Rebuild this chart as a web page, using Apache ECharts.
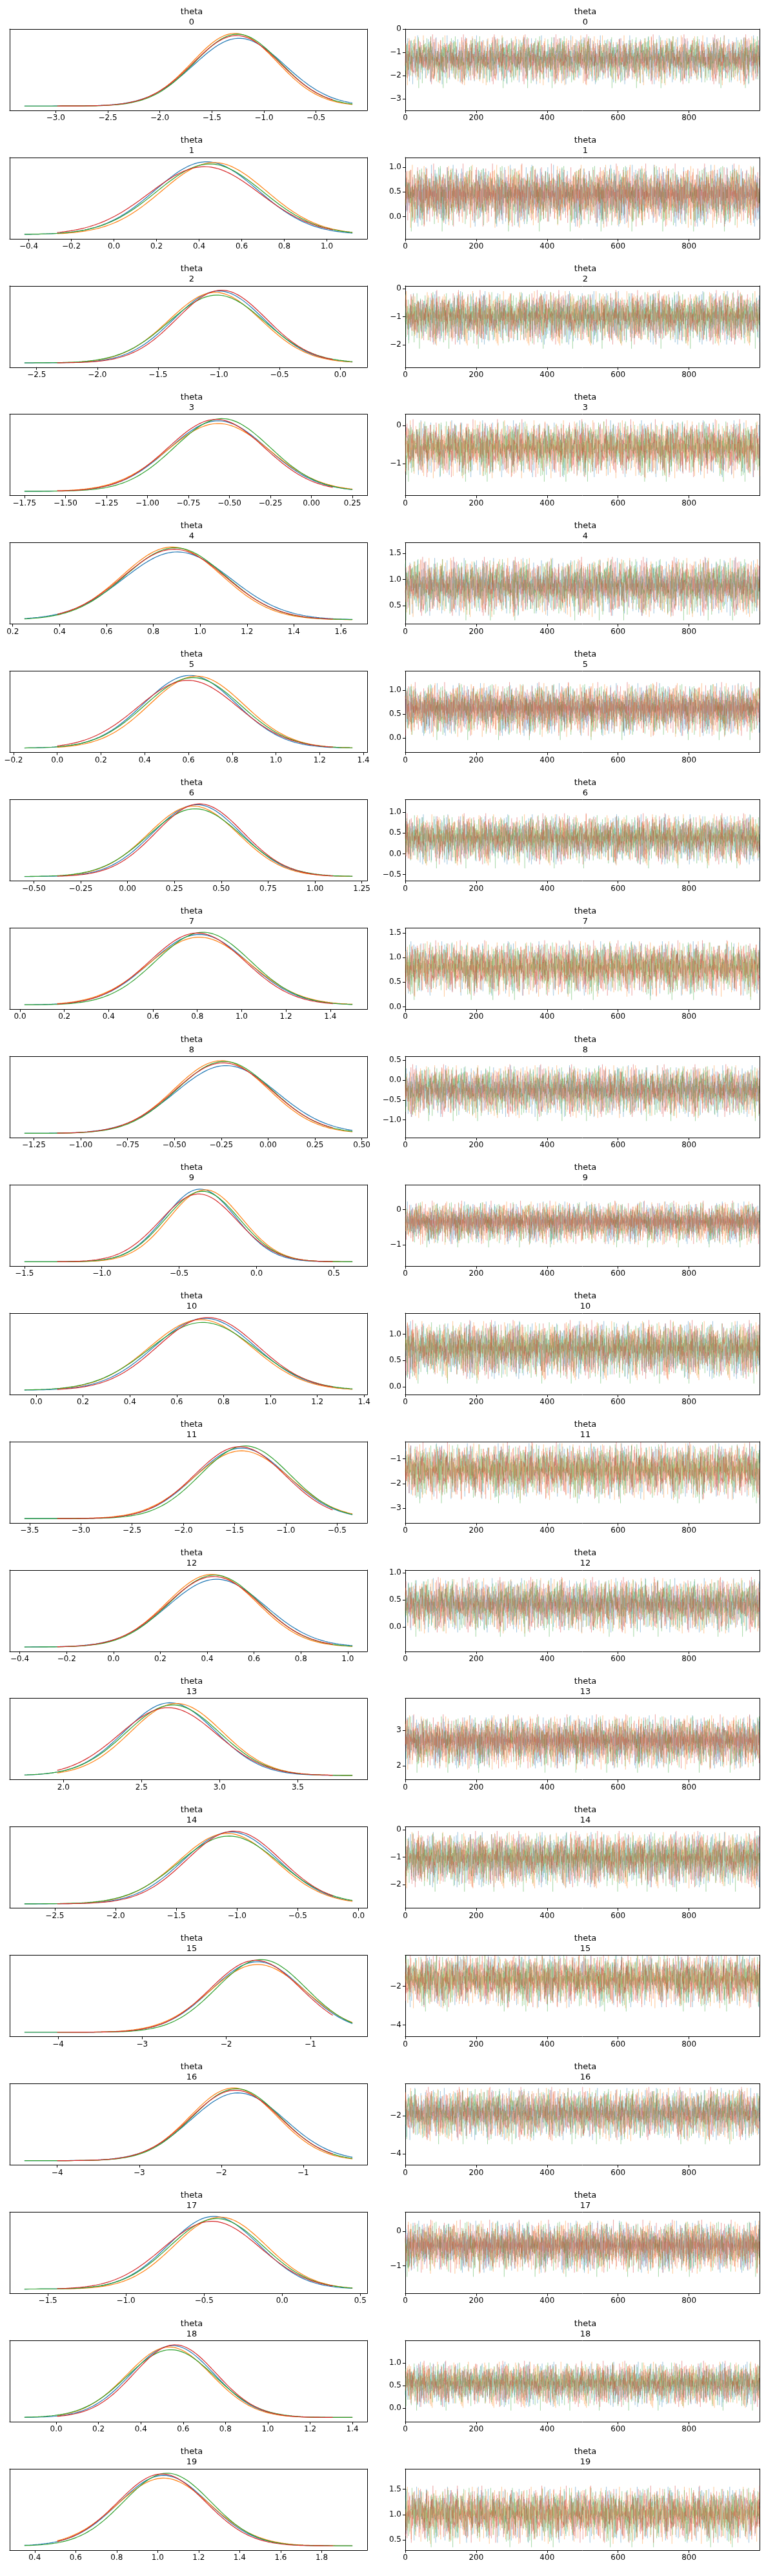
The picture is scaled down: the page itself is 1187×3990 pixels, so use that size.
<!DOCTYPE html>
<html><head><meta charset="utf-8">
<script src="https://cdn.jsdelivr.net/npm/echarts@6/dist/echarts.min.js"></script>
<style>html,body{margin:0;padding:0;background:#fff}#c{width:1187px;height:3990px}</style>
</head><body><div id="c"></div>
<script>
// Per-panel posterior summaries
const panelNames = ['0','1','2','3','4','5','6','7','8','9','10','11','12','13','14','15','16','17','18','19'];
const kdeMeans = [-1.28,0.45,-1.0,-0.58,0.88,0.62,0.37,0.8,-0.25,-0.35,0.72,-1.45,0.42,2.7,-1.05,-1.65,-1.85,-0.42,0.55,1.02];
const kdeSds   = [0.42,0.25,0.38,0.3,0.22,0.22,0.24,0.22,0.26,0.24,0.22,0.45,0.2,0.3,0.4,0.55,0.55,0.3,0.2,0.22];
const kdeXMin  = [-3.3,-0.42,-2.6,-1.75,0.25,-0.15,-0.55,0.02,-1.3,-1.5,-0.05,-3.55,-0.38,1.75,-2.75,-4.4,-4.4,-1.65,-0.15,0.35];
const kdeXMax  = [-0.15,1.12,0.1,0.25,1.65,1.35,1.2,1.5,0.45,0.62,1.35,-0.35,1.02,3.85,-0.05,-0.5,-0.4,0.45,1.4,1.95];
const kdeTicks = [
 [-3.0,-2.5,-2.0,-1.5,-1.0,-0.5,0.0],[-0.4,-0.2,0.0,0.2,0.4,0.6,0.8,1.0,1.2],[-2.5,-2.0,-1.5,-1.0,-0.5,0.0],
 [-1.75,-1.5,-1.25,-1.0,-0.75,-0.5,-0.25,0.0,0.25],[0.2,0.4,0.6,0.8,1.0,1.2,1.4,1.6],[-0.2,0.0,0.2,0.4,0.6,0.8,1.0,1.2,1.4],
 [-0.5,-0.25,0.0,0.25,0.5,0.75,1.0,1.25],[0.0,0.2,0.4,0.6,0.8,1.0,1.2,1.4,1.6],[-1.25,-1.0,-0.75,-0.5,-0.25,0.0,0.25,0.5],
 [-1.5,-1.0,-0.5,0.0,0.5],[0.0,0.2,0.4,0.6,0.8,1.0,1.2,1.4],[-3.5,-3.0,-2.5,-2.0,-1.5,-1.0,-0.5],
 [-0.4,-0.2,0.0,0.2,0.4,0.6,0.8,1.0],[2.0,2.5,3.0,3.5],[-2.5,-2.0,-1.5,-1.0,-0.5,0.0],[-4,-3,-2,-1],[-4,-3,-2,-1],
 [-1.5,-1.0,-0.5,0.0,0.5],[0.0,0.2,0.4,0.6,0.8,1.0,1.2,1.4],[0.4,0.6,0.8,1.0,1.2,1.4,1.6,1.8]];
const kdeTickDec = [1,1,1,2,1,1,2,1,2,1,1,1,1,1,1,0,0,1,1,1];
const traceYMin = [-3.5,-0.45,-2.8,-1.85,0.15,-0.3,-0.65,-0.05,-1.45,-1.6,-0.15,-3.6,-0.45,1.6,-2.85,-4.6,-4.6,-1.8,-0.3,0.3];
const traceYMax = [0.0,1.2,0.1,0.3,1.7,1.4,1.3,1.6,0.6,0.7,1.4,-0.3,1.05,3.9,0.1,-0.4,-0.3,0.55,1.5,1.9];
const traceTicks = [[-3,-2,-1,0],[0.0,0.5,1.0],[-2,-1,0],[-1,0],[0.5,1.0,1.5],[0.0,0.5,1.0],[-0.5,0.0,0.5,1.0],
 [0.0,0.5,1.0,1.5],[-1.0,-0.5,0.0,0.5],[-1,0],[0.0,0.5,1.0],[-3,-2,-1],[0.0,0.5,1.0],[2,3],[-2,-1,0],[-4,-2],[-4,-2],
 [-1,0],[0.0,0.5,1.0],[0.5,1.0,1.5]];
const traceTickDec = [0,1,0,0,1,1,1,1,1,0,1,0,1,0,0,0,0,0,1,1];
// per-chain KDE shifts (in sd units) and width factors
const chainShift = [[0.05,-0.03,0.0,0.02],[0.0,0.04,-0.04,0.02],[0.03,0.0,-0.02,0.06],[0.02,-0.05,0.03,0.0]];
const chainWidth = [1.04,0.97,0.98,1.0];
const colors = ['#1f77b4','#ff7f0e','#2ca02c','#d62728'];
// standardized trace deviations per chain (estimated noise pattern)
const chainA = [0.3,-1.2,0.8,-0.4,1.5,-0.9,0.1,2.1,-1.6,0.5,-0.2,1.1,-2.3,0.7,-0.6,0.2,1.8,-1.1,0.4,-0.8,0.9,-2.6,1.3,-0.3,0.6,-1.4,0.0,1.6,-0.7,0.3,-1.9,1.0,-0.1,0.8,-1.3,2.4,-0.5,0.2,-1.0,1.2,-0.4,0.6,-2.1,0.9,-0.2,1.4,-0.9,0.3,-1.5,0.7,0.1,-0.6,1.9,-1.2,0.4,-0.3,1.1,-2.0,0.5,-0.8,1.3,-0.1,0.6,-1.7,0.2,2.0,-0.9,0.0,-1.1,0.8,-0.5,1.5,-2.4,0.3,0.9,-0.4,1.2,-1.3,0.6,-0.2,1.7,-0.7,0.1,-1.8,1.0,-0.6,0.4,2.2,-1.0,0.2,-0.3,0.8,-1.5,1.1,-0.1,0.5,-2.2,0.7,-0.9,1.4];
const chainB = [-0.5,0.9,-1.4,0.2,1.2,-0.3,-2.0,0.6,1.7,-0.8,0.1,-1.1,0.4,2.3,-0.6,0.8,-1.7,0.0,1.0,-0.4,-2.5,1.5,0.3,-0.9,0.7,-0.2,1.9,-1.2,0.5,-0.7,1.1,-2.2,0.2,0.9,-0.5,1.4,-1.0,0.1,-1.6,0.6,2.0,-0.3,-0.8,1.2,-1.3,0.4,0.0,-2.7,1.6,-0.6,0.8,-0.1,1.3,-1.1,0.3,-0.4,1.8,-1.9,0.7,-0.2,0.5,-1.4,2.1,-0.7,0.2,1.0,-1.2,-0.3,0.9,-2.1,1.4,0.1,-0.5,0.6,-1.0,1.7,-0.8,0.4,-1.5,0.2,1.1,-0.6,2.4,-1.3,0.0,-0.9,0.8,-0.2,1.5,-1.8,0.3,0.7,-0.4,-2.3,1.2,-0.1,0.6,-1.0,1.9,-0.5];
const chainC = [1.1,-0.2,0.5,-1.8,0.3,1.6,-0.7,-0.1,0.9,-2.4,1.3,-0.5,0.2,1.0,-1.2,0.6,-0.3,2.2,-0.9,0.0,-1.5,0.8,1.4,-0.6,-3.0,0.4,-0.1,1.7,-1.1,0.7,-0.4,1.2,-2.0,0.1,0.9,-0.8,1.5,-0.3,0.3,-1.4,2.0,-0.7,0.6,-0.2,-1.6,1.1,0.0,-0.9,1.8,-0.5,0.2,-2.2,1.0,0.4,-1.0,0.7,-0.3,1.6,-1.3,0.1,0.8,-0.6,2.3,-1.7,0.5,-0.1,1.2,-0.8,0.3,-2.1,0.9,-0.4,1.4,-1.1,0.0,0.6,-1.5,1.9,-0.2,0.7,-0.9,0.2,-1.3,1.3,-0.5,2.1,-1.9,0.4,-0.7,1.0,-0.1,0.5,-1.2,1.6,-2.5,0.8,-0.3,0.2,1.1,-0.8];
const chainD = [-0.9,0.6,0.1,-1.3,1.9,-0.4,0.8,-2.1,0.3,1.2,-0.7,0.0,-1.5,1.0,0.5,-0.3,2.0,-1.0,-0.6,0.7,-1.9,1.4,-0.2,0.4,-0.8,1.6,-2.3,0.2,0.9,-0.5,1.3,-1.2,-0.1,0.6,-1.7,2.2,0.0,-0.9,1.1,-0.4,0.3,-2.0,1.5,-0.6,0.8,-1.1,0.2,1.8,-1.4,-0.2,0.5,-0.7,1.2,-2.6,0.9,0.1,-0.5,1.6,-1.0,0.4,-0.3,2.1,-1.6,0.7,-0.8,0.0,1.3,-1.3,0.6,-2.2,1.0,-0.1,0.4,-0.9,1.7,-0.4,0.2,-1.8,1.1,-0.6,2.5,-1.1,0.3,-0.2,0.8,-1.4,1.4,-0.7,0.1,-2.0,1.2,0.5,-0.5,0.9,-1.2,0.2,1.6,-0.3,-1.6,0.6];
const chains = [chainA, chainB, chainC, chainD];

const pitch = 198.9, top0 = 45, h = 126;
const grids=[], xAxes=[], yAxes=[], series=[], titles=[];
function fmt(v,d){ const s=v.toFixed(d); return s.replace('-','\u2212'); }
const lab = {color:'#000',fontSize:12,fontFamily:'DejaVu Sans',margin:6};
function frame(gi){
  xAxes.push({gridIndex:gi,type:'value',position:'top',min:0,max:1,axisLine:{show:true,onZero:false,lineStyle:{color:'#000'}},axisTick:{show:false},axisLabel:{show:false},splitLine:{show:false}});
  yAxes.push({gridIndex:gi,type:'value',position:'right',min:0,max:1,axisLine:{show:true,onZero:false,lineStyle:{color:'#000'}},axisTick:{show:false},axisLabel:{show:false},splitLine:{show:false}});
}
for (let r=0;r<20;r++){
  const top = top0 + r*pitch;
  const gi = grids.length;
  grids.push({left:15,width:554,top:top,height:h});
  const m=kdeMeans[r], s=kdeSds[r], lo=kdeXMin[r], hi=kdeXMax[r];
  const span=hi-lo, pad=span*0.045;
  const kt=kdeTicks[r], dec=kdeTickDec[r];
  const xi = xAxes.length;
  xAxes.push({gridIndex:gi,type:'value',min:lo-pad,max:hi+pad,
    axisLine:{onZero:false,lineStyle:{color:'#000'}},splitLine:{show:false},
    axisTick:{show:true,customValues:kt,length:4,lineStyle:{color:'#000'}},
    axisLabel:Object.assign({customValues:kt,formatter:v=>fmt(v,dec)},lab)});
  let peak=0; const curves=[];
  for(let c=0;c<4;c++){
    const cm=m+chainShift[c][r%4]*s*2, cs=s*chainWidth[(c+r)%4];
    const pts=[];
    const a=lo+span*(c===1||c===3?0.1:0), b=hi-span*(c===3?0.06:0);
    for(let i=0;i<=120;i++){const x=a+(b-a)*i/120; const y=Math.exp(-0.5*((x-cm)/cs)**2)/cs; pts.push([x,y]); if(y>peak)peak=y;}
    curves.push(pts);
  }
  const yi = yAxes.length;
  yAxes.push({gridIndex:gi,type:'value',min:-peak*0.06,max:peak*1.06,axisLine:{show:true,onZero:false,lineStyle:{color:'#000'}},
    axisTick:{show:false},axisLabel:{show:false},splitLine:{show:false}});
  curves.forEach((pts,c)=>series.push({type:'line',xAxisIndex:xi,yAxisIndex:yi,data:pts,showSymbol:false,silent:true,
    lineStyle:{color:colors[c],width:1.2},itemStyle:{color:colors[c]}}));
  frame(gi);
  // right trace
  const gj = grids.length;
  grids.push({left:628,width:549,top:top,height:h});
  const xj = xAxes.length;
  xAxes.push({gridIndex:gj,type:'value',min:0,max:999,
    axisLine:{onZero:false,lineStyle:{color:'#000'}},splitLine:{show:false},
    axisTick:{customValues:[0,200,400,600,800],length:4,lineStyle:{color:'#000'}},
    axisLabel:Object.assign({customValues:[0,200,400,600,800]},lab)});
  const tt=traceTicks[r], td=traceTickDec[r];
  const yj = yAxes.length;
  yAxes.push({gridIndex:gj,type:'value',min:traceYMin[r],max:traceYMax[r],
    axisLine:{show:true,onZero:false,lineStyle:{color:'#000'}},splitLine:{show:false},
    axisTick:{show:true,customValues:tt,length:4,lineStyle:{color:'#000'}},
    axisLabel:Object.assign({customValues:tt,formatter:v=>fmt(v,td)},lab)});
  for(let c=0;c<4;c++){
    const arr=chains[c], n=arr.length, pts=[];
    const mult=[1,3,7,9][(r+c)%4], off=(r*13+c*29)%n;
    for(let i=0;i<1000;i++){
      const v=arr[(i*mult+off+Math.floor(i/n)*17)%n];
      let y=m+s*v; y=Math.max(traceYMin[r]+0.02,Math.min(traceYMax[r]-0.02,y));
      pts.push([i,y]);
    }
    series.push({type:'line',xAxisIndex:xj,yAxisIndex:yj,data:pts,showSymbol:false,silent:true,sampling:false,
      lineStyle:{color:colors[c],width:0.6,opacity:0.4}});
  }
  frame(gj);
  [292,902].forEach(cx=>titles.push({text:'theta\n'+panelNames[r],left:cx,top:top-39,textAlign:'center',
    textStyle:{fontSize:13,fontWeight:'normal',color:'#000',fontFamily:'DejaVu Sans',lineHeight:16}}));
}
const chart=echarts.init(document.getElementById('c'),null,{renderer:'canvas'});
chart.setOption({animation:false,backgroundColor:'#fff',title:titles,grid:grids,xAxis:xAxes,yAxis:yAxes,series:series});
</script></body></html>
